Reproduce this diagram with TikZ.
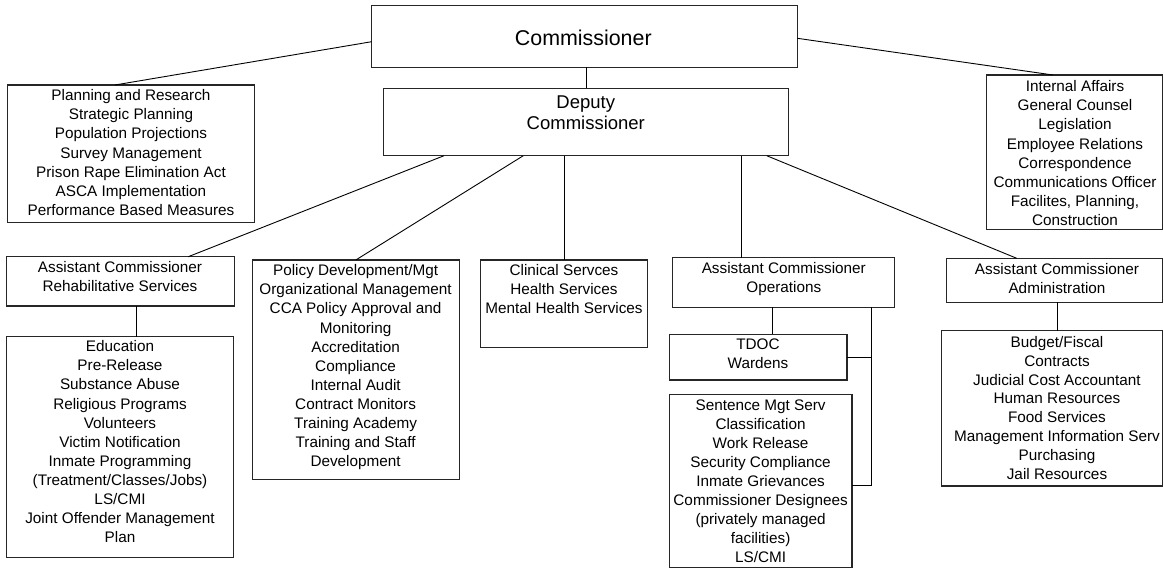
\documentclass[tikz,border=0pt]{standalone}
\usepackage{fontspec}
\setmainfont{Liberation Sans}
\newcommand\orgbody{\fontsize{15.3}{19.1}\selectfont}
\newcommand\orgbudget{\fontsize{15.3}{18.8}\selectfont}
\newcommand\orgbig{\fontsize{21.4}{25}\selectfont}
\newcommand\orgmid{\fontsize{18.5}{21.6}\selectfont}
\begin{document}
\begin{tikzpicture}[x=1pt,y=-1pt,
  box/.style={draw=black!85, line width=1.1pt, anchor=north west, inner sep=0pt, outer sep=0pt},
  txt/.style={align=center, inner sep=0pt, anchor=north, font=\orgbody},
  conn/.style={draw=black, line width=0.9pt}]
\useasboundingbox (0,0) rectangle (1164,569);

% boxes
\node[box, minimum width=425.6pt, minimum height=61.6pt] (comm) at (371.7,5.7) {};
\node[box, minimum width=405.4pt, minimum height=67.4pt] (dep) at (383.3,88.3) {};
\node[box, minimum width=246.8pt, minimum height=137.7pt] (plan) at (7.7,85) {};
\node[box, minimum width=175.9pt, minimum height=154.3pt] (intl) at (986.8,75) {};
\node[box, minimum width=227.6pt, minimum height=49.3pt] (rehab) at (6.7,256.7) {};
\node[box, minimum width=226.6pt, minimum height=220.6pt] (educ) at (6.7,336.7) {};
\node[box, minimum width=207pt, minimum height=219.3pt] (policy) at (252.3,260) {};
\node[box, minimum width=166.6pt, minimum height=87.7pt] (clin) at (480.7,260) {};
\node[box, minimum width=221.6pt, minimum height=49.6pt] (ops) at (672.7,257.7) {};
\node[box, minimum width=177.7pt, minimum height=45.7pt] (tdoc) at (669.3,334.3) {};
\node[box, minimum width=182.7pt, minimum height=173pt] (sent) at (669.3,394.3) {};
\node[box, minimum width=216pt, minimum height=44pt] (admin) at (946.7,258.3) {};
\node[box, minimum width=221pt, minimum height=155.3pt] (budget) at (941.7,330.7) {};

% texts
\node[font=\orgbig, inner sep=0pt] (commT) at (583.3,38.3) {Commissioner};
\node[txt, font=\orgmid] (depT) at (585.8,95.1) {Deputy\\Commissioner};
\node[txt] (planT) at (131,89.5) {Planning and Research\\Strategic Planning\\Population Projections\\Survey Management\\Prison Rape Elimination Act\\ASCA Implementation\\Performance Based Measures};
\node[txt] (intlT) at (1075,80.5) {Internal Affairs\\General Counsel\\Legislation\\Employee Relations\\Correspondence\\Communications Officer\\Facilites, Planning,\\Construction};
\node[txt] (rehabT) at (120,261.2) {Assistant Commissioner\\Rehabilitative Services};
\node[txt] (educT) at (120,340.5) {Education\\Pre-Release\\Substance Abuse\\Religious Programs\\Volunteers\\Victim Notification\\Inmate Programming\\(Treatment/Classes/Jobs)\\LS/CMI\\Joint Offender Management\\Plan};
\node[txt] (policyT) at (355.6,264.5) {Policy Development/Mgt\\Organizational Management\\CCA Policy Approval and\\Monitoring\\Accreditation\\Compliance\\Internal Audit\\Contract Monitors\\Training Academy\\Training and Staff\\Development};
\node[txt] (clinT) at (564,263.8) {Clinical Servces\\Health Services\\Mental Health Services};
\node[txt] (opsT) at (783.8,261.8) {Assistant Commissioner\\Operations};
\node[txt] (tdocT) at (758,338.5) {TDOC\\Wardens};
\node[txt] (sentT) at (760.6,399.2) {Sentence Mgt Serv\\Classification\\Work Release\\Security Compliance\\Inmate Grievances\\Commissioner Designees\\(privately managed\\facilities)\\LS/CMI};
\node[txt] (adminT) at (1057,263.5) {Assistant Commissioner\\Administration};
\node[txt, font=\orgbudget] (budgetT) at (1057,336.2) {Budget/Fiscal\\Contracts\\Judicial Cost Accountant\\Human Resources\\Food Services\\Management Information Serv\\Purchasing\\Jail Resources};

% connectors
\draw[conn] ([xshift=-16.2pt]plan.north) -- ([yshift=-5.2pt]comm.west);
\draw[conn] ([yshift=-1.8pt]comm.east) -- ([xshift=-21.75pt]intl.north);
\draw[conn] (dep.north |- comm.south) -- (dep.north);
\draw[conn] ([xshift=-142pt]dep.south) -- ([xshift=67.8pt]rehab.north);
\draw[conn] ([xshift=-62.7pt]dep.south) -- (policy.north);
\draw[conn] (clin.north |- dep.south) -- (clin.north);
\draw[conn] ([xshift=-42pt]ops.north |- dep.south) -- ([xshift=-42pt]ops.north);
\draw[conn] ([xshift=180.7pt]dep.south) -- ([xshift=-38pt]admin.north);
\draw[conn] ([xshift=15.5pt]rehab.south) -- ([xshift=15.5pt]rehab.south |- educ.north);
\draw[conn] ([xshift=-11.5pt]ops.south) -- ([xshift=-11.5pt]ops.south |- tdoc.north);
\coordinate (opsr) at ([xshift=88pt]ops.south);
\draw[conn] (opsr) |- ([yshift=-4.9pt]sent.east);
\draw[conn] (tdoc.east) -- (opsr |- tdoc.east);
\draw[conn] ([xshift=3pt]admin.south) -- ([xshift=3pt]admin.south |- budget.north);
\end{tikzpicture}
\end{document}
